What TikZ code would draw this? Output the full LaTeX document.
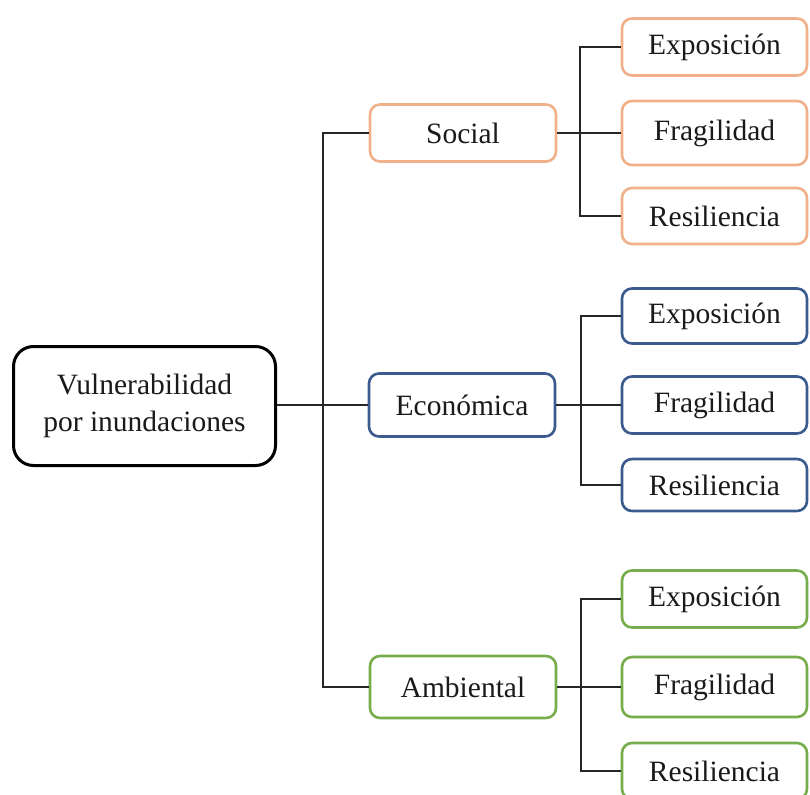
\documentclass[tikz,border=0pt]{standalone}
\usepackage{fontspec}
\setmainfont{Liberation Serif}
\definecolor{orangeb}{HTML}{EFB08A}
\definecolor{blueb}{HTML}{3B5B8E}
\definecolor{greenb}{HTML}{77AD4C}
\definecolor{txt}{HTML}{1A1A1A}
\begin{document}
\begin{tikzpicture}[x=1pt,y=-1pt,
  box/.style={draw, line width=2.6pt, rounded corners=10pt, fill=white, text=txt,
    font=\fontsize{29.5}{37}\selectfont, inner sep=0pt, align=center},
  rootbox/.style={box, draw=black, line width=3pt, rounded corners=20pt, minimum width=262pt, minimum height=119pt},
  midbox/.style={box, minimum width=186pt},
  leafbox/.style={box, minimum width=185pt},
  soc/.style={draw=orangeb},
  eco/.style={draw=blueb},
  amb/.style={draw=greenb},
  conn/.style={draw=black!85, line width=1.6pt}
]
\useasboundingbox (0,0) rectangle (810,794);
\fill[white] (0,0) rectangle (810,794);

% root
\node[rootbox] (root) at (144.5,406) {Vulnerabilidad\\por inundaciones};

% middle level
\node[midbox, soc, minimum height=57pt] (social) at (463,133) {Social};
\node[midbox, eco, minimum height=63pt] (econ) at (462,405) {Económica};
\node[midbox, amb, minimum height=62pt] (ambi) at (463,687) {Ambiental};

% leaves social
\node[leafbox, soc, minimum height=57pt] (s1) at (714.5,47) {Exposición};
\node[leafbox, soc, minimum height=64pt] (s2) at (714.5,133) {Fragilidad};
\node[leafbox, soc, minimum height=56pt] (s3) at (714.5,216) {Resiliencia};
% leaves econ
\node[leafbox, eco, minimum height=55pt] (e1) at (714.5,316) {Exposición};
\node[leafbox, eco, minimum height=57pt] (e2) at (714.5,405) {Fragilidad};
\node[leafbox, eco, minimum height=52pt] (e3) at (714.5,485) {Resiliencia};
% leaves ambiental
\node[leafbox, amb, minimum height=57pt] (a1) at (714.5,599) {Exposición};
\node[leafbox, amb, minimum height=60pt] (a2) at (714.5,687) {Fragilidad};
\node[leafbox, amb, minimum height=56pt] (a3) at (714.5,771) {Resiliencia};

% trunk
\coordinate (t) at (323,405);
\draw[conn, line width=2.6pt] (root.east |- t) -- (t);
\draw[conn] (social.west) -| (t);
\draw[conn] (ambi.west) -| (t);
\draw[conn] (econ.west) -- (t);

% social bracket
\coordinate (sb) at (580,133);
\draw[conn] (social.east) -- (s2.west);
\draw[conn] (s1.west) -| (sb);
\draw[conn] (s3.west) -| (sb);
% econ bracket
\coordinate (eb) at (581,405);
\draw[conn] (econ.east) -- (e2.west);
\draw[conn] (e1.west) -| (eb);
\draw[conn] (e3.west) -| (eb);
% ambiental bracket
\coordinate (ab) at (581,687);
\draw[conn] (ambi.east) -- (a2.west);
\draw[conn] (a1.west) -| (ab);
\draw[conn] (a3.west) -| (ab);
\end{tikzpicture}
\end{document}
